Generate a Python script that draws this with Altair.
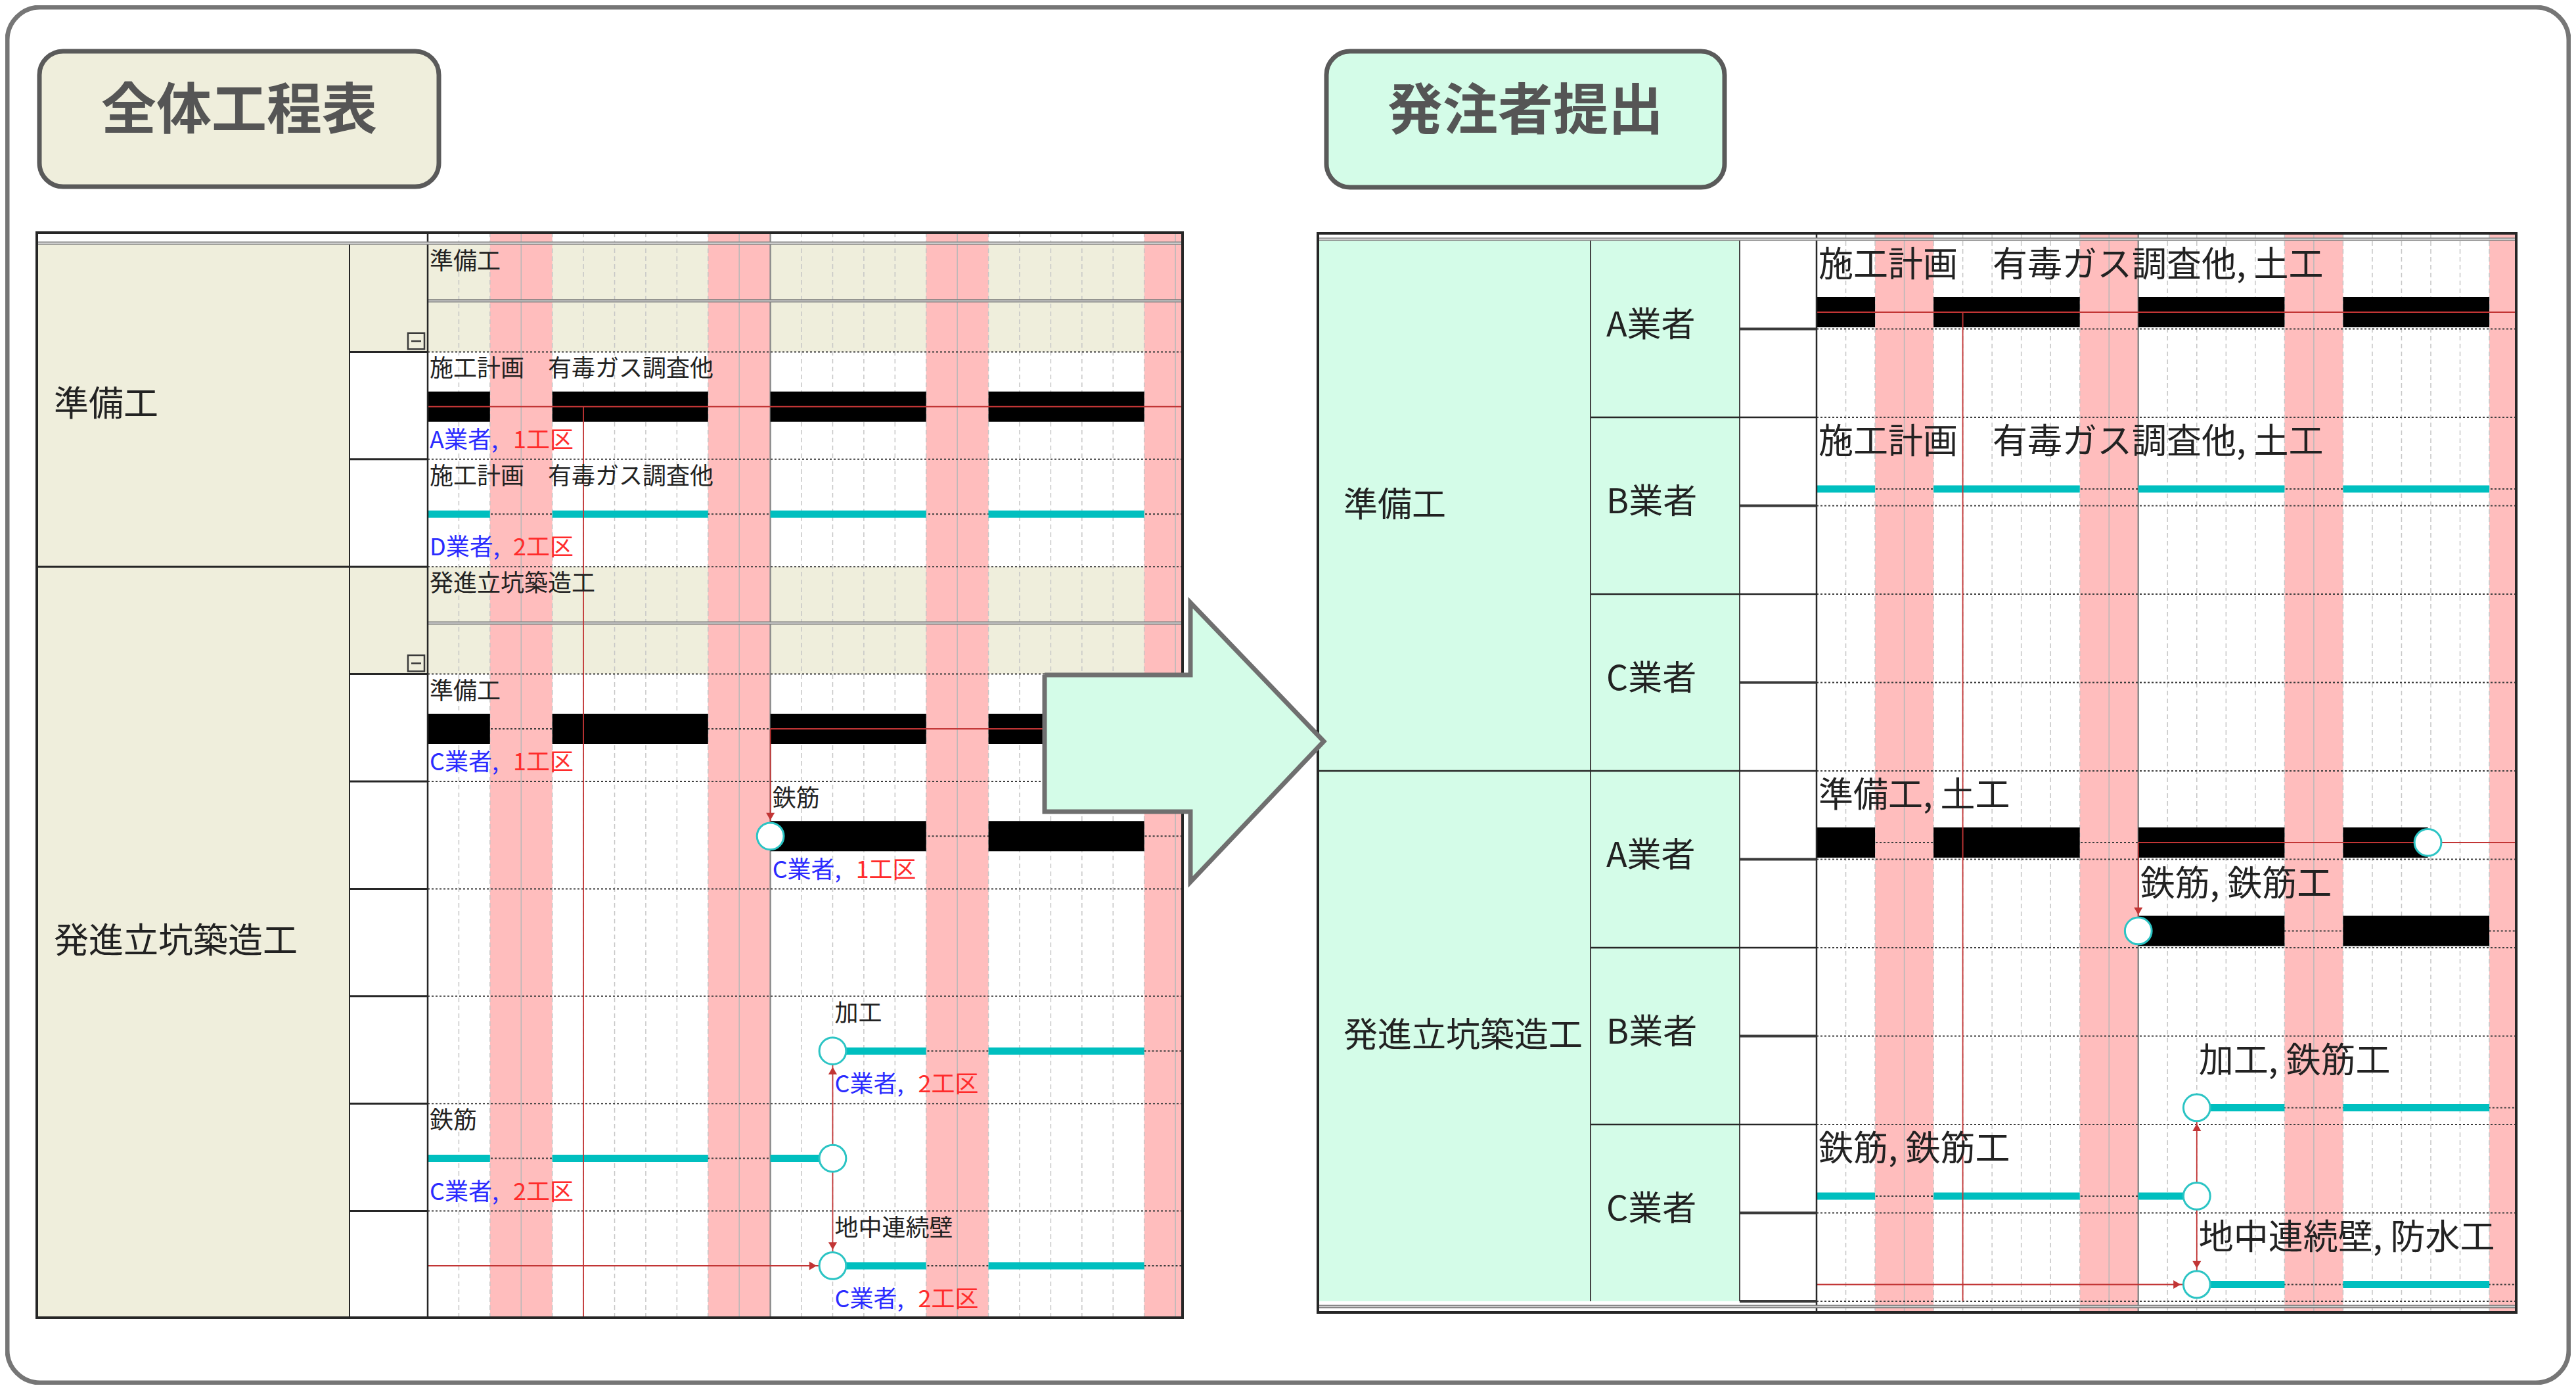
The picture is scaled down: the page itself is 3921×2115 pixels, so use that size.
import altair as alt
import pandas as pd

FONT = "Noto Sans CJK JP"

# ======================= schedule content =======================
HOLIDAY_START = [2, 9, 16, 23]          # first day of each 2-day holiday band
HOLIDAY_LEN = 2
WEEK_LINE_DAYS = [3, 10, 17, 24]        # solid grid lines inside the bands
BASE_LINE_DAY = 11                      # solid grey vertical line
PROGRESS_DAY = 5                        # thin red vertical line

# --- left: 全体工程表 ---
L_TITLE = "全体工程表"
L_DAYS = 24.23
L_ROWS = 10
L_GROUPS = ["準備工", "発進立坑築造工"]
L_GROUP_FROM = [0, 3]
L_GROUP_TO = [3, 10]
L_SUMMARY_ROWS = [0, 3]
L_ROW_TEXT = ["準備工", "施工計画　有毒ガス調査他", "施工計画　有毒ガス調査他", "発進立坑築造工",
              "準備工", "鉄筋", "", "加工", "鉄筋", "地中連続壁"]
L_ROW_DAY = [0, 0, 0, 0, 0, 11, 0, 13, 0, 13]
L_VENDOR = ["", "A業者,", "D業者,", "", "C業者,", "C業者,", "", "C業者,", "C業者,", "C業者,"]
L_ZONE = ["", "1工区", "2工区", "", "1工区", "1工区", "", "2工区", "2工区", "2工区"]
L_TASK_ROW = [1, 2, 4, 5, 7, 8, 9]
L_TASK_COLOR = ["black", "cyan", "black", "black", "cyan", "cyan", "cyan"]
L_TASK_SEGMENTS = [
    [(0, 2), (4, 9), (11, 16), (18, 23)],
    [(0, 2), (4, 9), (11, 16), (18, 23)],
    [(0, 2), (4, 9), (11, 16), (18, 23)],
    [(11, 16), (18, 23)],
    [(13, 16), (18, 23)],
    [(0, 2), (4, 9), (11, 13)],
    [(13, 16), (18, 23)],
]
L_TASK_DOTTED = [None, (0, L_DAYS), (0, L_DAYS), (11, L_DAYS), (13, L_DAYS), (0, 13), (13, L_DAYS)]
L_MILESTONE_ROW = [5, 7, 8, 9]
L_MILESTONE_DAY = [11, 13, 13, 13]
L_LINK_H = [(1, 0, L_DAYS), (4, 11, L_DAYS), (9, 0, 13)]          # row, from day, to day
L_LINK_V = [(PROGRESS_DAY, 1, None), (11, 4, 5), (13, 7, 9)]       # day, from row, to row
L_ARROWHEAD = [(11, 5, "down"), (13, 7, "up"), (13, 9, "down"), (13, 9, "right")]

# --- right: 発注者提出 ---
R_TITLE = "発注者提出"
R_DAYS = 23.92
R_ROWS = 12
R_GROUPS = ["準備工", "発進立坑築造工"]
R_GROUP_FROM = [0, 6]
R_GROUP_TO = [6, 12]
R_VENDORS = ["A業者", "B業者", "C業者", "A業者", "B業者", "C業者"]
R_VENDOR_FROM = [0, 2, 4, 6, 8, 10]
R_TASK_SUB = [0, 2, 6, 7, 9, 10, 11]
R_TASK_TEXT = ["施工計画　有毒ガス調査他, 土工", "施工計画　有毒ガス調査他, 土工", "準備工, 土工",
               "鉄筋, 鉄筋工", "加工, 鉄筋工", "鉄筋, 鉄筋工", "地中連続壁, 防水工"]
R_TASK_DAY = [0, 0, 0, 11, 13, 0, 13]
R_TASK_COLOR = ["black", "cyan", "black", "black", "cyan", "cyan", "cyan"]
R_TASK_SEGMENTS = [
    [(0, 2), (4, 9), (11, 16), (18, 23)],
    [(0, 2), (4, 9), (11, 16), (18, 23)],
    [(0, 2), (4, 9), (11, 16), (18, 20.9)],
    [(11, 16), (18, 23)],
    [(13, 16), (18, 23)],
    [(0, 2), (4, 9), (11, 13)],
    [(13, 16), (18, 23)],
]
R_TASK_DOTTED = [None, (0, R_DAYS), (0, 20.9), (11, R_DAYS), (13, R_DAYS), (0, 13), (13, R_DAYS)]
R_MILESTONE_SUB = [6, 7, 9, 10, 11]
R_MILESTONE_DAY = [20.9, 11, 13, 13, 13]
R_LINK_H = [(0, 0, R_DAYS), (6, 11, R_DAYS), (11, 0, 13)]
R_LINK_V = [(PROGRESS_DAY, 0, None), (11, 6, 7), (13, 9, 11)]
R_ARROWHEAD = [(11, 7, "down"), (13, 9, "up"), (13, 11, "down"), (13, 11, "right")]

# ======================= style / layout =======================
OFF = 8
W, H = 3905, 2099
PINK = "#ffbdbd"
CREAM = "#efeedc"
MINT = "#d4fce8"
CYAN = "#00bfbf"
RED = "#c23535"
BLUE_T = "#2b2bff"
RED_T = "#ff2b2b"
INK = "#262626"
GRID = "#c6c6c6"
TXT = "#222222"

FRAME = (11, 11, 3910, 2104)
TITLE_X = [60, 2019]
TITLE_X2 = [668, 2625]
TITLE_Y = [78, 78]
TITLE_Y2 = [284, 285]
TITLE_FILL = [CREAM, MINT]

LG = dict(left=56, top=354, right=1800, bottom=2005, c1=532, c2=651, row0=372, rowN=2006,
          text_off=0.165, bar_off=0.51, label_off=0.83, dbl_off=0.525, label_x=82, fs=36, big=53,
          icon_x=621, icon_x2=646, icon_off=0.825, icon_off2=0.975)
RG = dict(left=2006, top=355, right=3830, bottom=1997, c1=2421, c2=2648, c3=2765, row0=366, rowN=1980,
          text_off=0.29, bar_off=0.81, label_x=2045, vendor_x=2445, fs=53, big=52)

ARROW_SHAFT = (1590, 1027, 1812, 1235)          # x, y, x2, y2
ARROW_HEAD = (1812, 917, 1342, 2015, 1128)       # base x, top y, bottom y, tip x, tip y


def scale(d0, d1, r0, r1):
    return alt.Scale(domain=[d0, d1], range=[r0 - OFF, r1 - OFF], nice=False, zero=False)


PXS = scale(0, 1000, 0, 1000)
PYS = scale(0, 1000, 0, 1000)


def mk(data, mark, xs, ys, x2=False, y2=False, text=False, enc=None, **props):
    ch = getattr(alt.Chart(data), "mark_" + mark)(**props)
    e = {"x": alt.X("x:Q", scale=xs, axis=None), "y": alt.Y("y:Q", scale=ys, axis=None)}
    if x2:
        e["x2"] = alt.X2("x2")
    if y2:
        e["y2"] = alt.Y2("y2")
    if text:
        e["text"] = alt.Text("t:N")
    if enc:
        e.update(enc)
    return ch.encode(**e)


def gantt_grid(xs, ys, days, top, bottom, row_lines):
    out = []
    hol = pd.DataFrame({"x": HOLIDAY_START, "x2": [min(s + HOLIDAY_LEN, days) for s in HOLIDAY_START]})
    hol["y"] = top
    hol["y2"] = bottom
    out.append(mk(hol, "rect", xs, PYS, x2=True, y2=True, color=PINK))
    dash_days = [d for d in range(1, int(days) + 1) if d not in WEEK_LINE_DAYS and d != BASE_LINE_DAY]
    g = pd.DataFrame({"x": dash_days})
    g["y"] = top
    g["y2"] = bottom
    out.append(mk(g, "rule", xs, PYS, y2=True, color=GRID, strokeWidth=1.5, strokeDash=[7, 5]))
    wk = pd.DataFrame({"x": [d for d in WEEK_LINE_DAYS if d < days]})
    wk["y"] = top
    wk["y2"] = bottom
    out.append(mk(wk, "rule", xs, PYS, y2=True, color="#b8b8b8", strokeWidth=1.5))
    bl = pd.DataFrame({"x": [BASE_LINE_DAY], "y": [top], "y2": [bottom]})
    out.append(mk(bl, "rule", xs, PYS, y2=True, color="#8c8c8c", strokeWidth=2.5))
    rl = pd.DataFrame({"y": row_lines})
    rl["x"] = 0
    rl["x2"] = days
    out.append(mk(rl, "rule", xs, ys, x2=True, color="#3c3c3c", strokeWidth=2, strokeDash=[3, 3]))
    return out


def gantt_tasks(xs, ys, days, n_rows, off, t_rows, t_colors, t_segs, t_dotted, ms_rows, ms_days,
                link_h, link_v, heads, black_w, cyan_w):
    out = []
    dx, dx2, dy = [], [], []
    for r, d in zip(t_rows, t_dotted):
        if d:
            dx.append(d[0]); dx2.append(d[1]); dy.append(r + off)
    out.append(mk(pd.DataFrame({"x": dx, "x2": dx2, "y": dy}), "rule", xs, ys, x2=True,
                  color="#3c3c3c", strokeWidth=2, strokeDash=[3, 3]))
    for col, width, colour in [("black", black_w, "#000000"), ("cyan", cyan_w, CYAN)]:
        bx, bx2, by = [], [], []
        for r, c, segs in zip(t_rows, t_colors, t_segs):
            if c == col:
                for a, b in segs:
                    bx.append(a); bx2.append(b); by.append(r + off)
        out.append(mk(pd.DataFrame({"x": bx, "x2": bx2, "y": by}), "rule", xs, ys, x2=True,
                      color=colour, strokeWidth=width, strokeCap="butt"))
    hdf = pd.DataFrame({"y": [h[0] + off for h in link_h], "x": [h[1] for h in link_h],
                        "x2": [h[2] for h in link_h]})
    out.append(mk(hdf, "rule", xs, ys, x2=True, color=RED, strokeWidth=2))
    vdf = pd.DataFrame({"x": [v[0] for v in link_v], "y": [v[1] + off for v in link_v],
                        "y2": [(v[2] + off) if v[2] is not None else n_rows for v in link_v]})
    out.append(mk(vdf, "rule", xs, ys, y2=True, color=RED, strokeWidth=1.8))
    for direction, shape, xo, yo in [("down", "triangle-down", 0, -30), ("up", "triangle-up", 0, 30),
                                     ("right", "triangle-right", -30, 0)]:
        sel = [h for h in heads if h[2] == direction]
        if sel:
            adf = pd.DataFrame({"x": [h[0] for h in sel], "y": [h[1] + off for h in sel]})
            out.append(mk(adf, "point", xs, ys, shape=shape, filled=True, color=RED, size=170,
                          opacity=1, xOffset=xo, yOffset=yo))
    mdf = pd.DataFrame({"x": ms_days, "y": [r + off for r in ms_rows]})
    out.append(mk(mdf, "point", xs, ys, shape="circle", filled=True, fill="white", stroke="#2bc4c4",
                  strokeWidth=3, size=1662, opacity=1))
    return out


layers = []

# ---------------- background: outer frame and title boxes ----------------
layers.append(mk(pd.DataFrame({"x": [FRAME[0]], "x2": [FRAME[2]], "y": [FRAME[1]], "y2": [FRAME[3]]}),
                 "rect", PXS, PYS, x2=True, y2=True, fill="white", stroke="#767676", strokeWidth=7,
                 cornerRadius=50))
tb = pd.DataFrame({"x": TITLE_X, "x2": TITLE_X2, "y": TITLE_Y, "y2": TITLE_Y2, "f": TITLE_FILL})
layers.append(mk(tb, "rect", PXS, PYS, x2=True, y2=True, enc={"fill": alt.Fill("f:N", scale=None)},
                 stroke="#5a5a5a", strokeWidth=7, cornerRadius=36))
tt = pd.DataFrame({"x": [(a + b) / 2 for a, b in zip(TITLE_X, TITLE_X2)],
                   "y": [(a + b) / 2 - 10 for a, b in zip(TITLE_Y, TITLE_Y2)],
                   "t": [L_TITLE, R_TITLE]})
layers.append(mk(tt, "text", PXS, PYS, text=True, font=FONT, fontSize=84, fontWeight="bold",
                 color="#555555", align="center", baseline="middle"))

# ---------------- left panel ----------------
LXS = scale(0, L_DAYS, LG["c2"], LG["right"])
LYS = scale(0, L_ROWS, LG["row0"], LG["rowN"])
layers.append(mk(pd.DataFrame({"x": [LG["left"]], "x2": [LG["c1"]], "y": [0], "y2": [L_ROWS]}),
                 "rect", PXS, LYS, x2=True, y2=True, color=CREAM))
sr = pd.DataFrame({"y": L_SUMMARY_ROWS, "y2": [r + 1 for r in L_SUMMARY_ROWS]})
sr["x"] = LG["c1"]
sr["x2"] = LG["c2"]
layers.append(mk(sr, "rect", PXS, LYS, x2=True, y2=True, color=CREAM))
sg = pd.DataFrame({"y": L_SUMMARY_ROWS, "y2": [r + 1 for r in L_SUMMARY_ROWS]})
sg["x"] = 0
sg["x2"] = L_DAYS
layers.append(mk(sg, "rect", LXS, LYS, x2=True, y2=True, color=CREAM))
layers += gantt_grid(LXS, LYS, L_DAYS, LG["top"], LG["bottom"], list(range(1, L_ROWS)))
dbl = pd.DataFrame({"y": [r + LG["dbl_off"] for r in L_SUMMARY_ROWS]})
dbl["x"] = 0
dbl["x2"] = L_DAYS
layers.append(mk(dbl, "rule", LXS, LYS, x2=True, color="#7e7e7e", strokeWidth=5))
layers.append(mk(dbl, "rule", LXS, LYS, x2=True, color="#e2e2e2", strokeWidth=1.3))
layers += gantt_tasks(LXS, LYS, L_DAYS, L_ROWS, LG["bar_off"], L_TASK_ROW, L_TASK_COLOR, L_TASK_SEGMENTS,
                      L_TASK_DOTTED, L_MILESTONE_ROW, L_MILESTONE_DAY, L_LINK_H, L_LINK_V, L_ARROWHEAD, 46, 11)
idx = [i for i, t in enumerate(L_ROW_TEXT) if t]
layers.append(mk(pd.DataFrame({"x": [L_ROW_DAY[i] for i in idx], "y": [i + LG["text_off"] for i in idx],
                               "t": [L_ROW_TEXT[i] for i in idx]}),
                 "text", LXS, LYS, text=True, font=FONT, fontSize=LG["fs"], color=TXT,
                 align="left", baseline="middle", dx=3))
vidx = [i for i, t in enumerate(L_VENDOR) if t]
vlab = pd.DataFrame({"x": [L_ROW_DAY[i] for i in vidx], "y": [i + LG["label_off"] for i in vidx],
                     "t": [L_VENDOR[i] for i in vidx]})
layers.append(mk(vlab, "text", LXS, LYS, text=True, font=FONT, fontSize=LG["fs"], color=BLUE_T,
                 align="left", baseline="middle", dx=3))
zlab = pd.DataFrame({"x": [L_ROW_DAY[i] for i in vidx], "y": [i + LG["label_off"] for i in vidx],
                     "t": [L_ZONE[i] for i in vidx]})
layers.append(mk(zlab, "text", LXS, LYS, text=True, font=FONT, fontSize=LG["fs"], color=RED_T,
                 align="left", baseline="middle", dx=130))
# left table lines and labels
layers.append(mk(pd.DataFrame({"x": [LG["c1"]], "y": [0], "y2": [L_ROWS]}), "rule", PXS, LYS, y2=True,
                 color=INK, strokeWidth=2))
layers.append(mk(pd.DataFrame({"x": [LG["c2"]], "y": [LG["top"]], "y2": [LG["bottom"]]}), "rule", PXS, PYS,
                 y2=True, color=INK, strokeWidth=2.5))
c2l = pd.DataFrame({"y": list(range(1, L_ROWS))})
c2l["x"] = LG["c1"]
c2l["x2"] = LG["c2"]
layers.append(mk(c2l, "rule", PXS, LYS, x2=True, color=INK, strokeWidth=3))
gl = pd.DataFrame({"y": L_GROUP_FROM[1:]})
gl["x"] = LG["left"]
gl["x2"] = LG["c1"]
layers.append(mk(gl, "rule", PXS, LYS, x2=True, color=INK, strokeWidth=3))
# collapse icons (boxed minus) in the summary rows
icons = pd.DataFrame({"y": [r + LG["icon_off"] for r in L_SUMMARY_ROWS],
                      "y2": [r + LG["icon_off2"] for r in L_SUMMARY_ROWS]})
icons["x"] = LG["icon_x"]
icons["x2"] = LG["icon_x2"]
layers.append(mk(icons, "rect", PXS, LYS, x2=True, y2=True, fill=CREAM, stroke="#3a3a3a", strokeWidth=2.5))
mid = pd.DataFrame({"y": [r + (LG["icon_off"] + LG["icon_off2"]) / 2 for r in L_SUMMARY_ROWS]})
mid["x"] = LG["icon_x"] + 5
mid["x2"] = LG["icon_x2"] - 5
layers.append(mk(mid, "rule", PXS, LYS, x2=True, color="#3a3a3a", strokeWidth=2.5))
glab = pd.DataFrame({"y": [(a + b) / 2 for a, b in zip(L_GROUP_FROM, L_GROUP_TO)], "t": L_GROUPS})
glab["x"] = LG["label_x"]
layers.append(mk(glab, "text", PXS, LYS, text=True, font=FONT, fontSize=LG["big"], color=TXT,
                 align="left", baseline="middle"))

# ---------------- right panel ----------------
RXS = scale(0, R_DAYS, RG["c3"], RG["right"])
RYS = scale(0, R_ROWS, RG["row0"], RG["rowN"])
layers.append(mk(pd.DataFrame({"x": [RG["left"]], "x2": [RG["c2"]], "y": [0], "y2": [R_ROWS]}),
                 "rect", PXS, RYS, x2=True, y2=True, color=MINT))
layers += gantt_grid(RXS, RYS, R_DAYS, RG["top"], RG["bottom"], list(range(1, R_ROWS + 1)))
layers += gantt_tasks(RXS, RYS, R_DAYS, R_ROWS, RG["bar_off"], R_TASK_SUB, R_TASK_COLOR, R_TASK_SEGMENTS,
                      R_TASK_DOTTED, R_MILESTONE_SUB, R_MILESTONE_DAY, R_LINK_H, R_LINK_V, R_ARROWHEAD, 46, 11)
layers.append(mk(pd.DataFrame({"x": R_TASK_DAY, "y": [s + RG["text_off"] for s in R_TASK_SUB], "t": R_TASK_TEXT}),
                 "text", RXS, RYS, text=True, font=FONT, fontSize=RG["fs"], color=TXT,
                 align="left", baseline="middle", dx=3))
layers.append(mk(pd.DataFrame({"x": [RG["c1"], RG["c2"]], "y": [0, 0], "y2": [R_ROWS, R_ROWS]}),
                 "rule", PXS, RYS, y2=True, color="#444444", strokeWidth=2))
layers.append(mk(pd.DataFrame({"x": [RG["c3"]], "y": [RG["top"]], "y2": [RG["bottom"]]}), "rule", PXS, PYS,
                 y2=True, color=INK, strokeWidth=2.5))
rgl = pd.DataFrame({"y": R_GROUP_FROM[1:]})
rgl["x"] = RG["left"]
rgl["x2"] = RG["c3"]
layers.append(mk(rgl, "rule", PXS, RYS, x2=True, color=INK, strokeWidth=2.5))
rvl = pd.DataFrame({"y": [f for f in R_VENDOR_FROM if f not in R_GROUP_FROM]})
rvl["x"] = RG["c1"]
rvl["x2"] = RG["c3"]
layers.append(mk(rvl, "rule", PXS, RYS, x2=True, color=INK, strokeWidth=2.5))
rsl = pd.DataFrame({"y": [s for s in range(1, R_ROWS + 1) if s not in R_VENDOR_FROM]})
rsl["x"] = RG["c2"]
rsl["x2"] = RG["c3"]
layers.append(mk(rsl, "rule", PXS, RYS, x2=True, color="#3a3a3a", strokeWidth=4))
rg = pd.DataFrame({"y": [(a + b) / 2 for a, b in zip(R_GROUP_FROM, R_GROUP_TO)], "t": R_GROUPS})
rg["x"] = RG["label_x"]
layers.append(mk(rg, "text", PXS, RYS, text=True, font=FONT, fontSize=RG["big"], color=TXT,
                 align="left", baseline="middle"))
rv = pd.DataFrame({"y": [f + 1 for f in R_VENDOR_FROM], "t": R_VENDORS})
rv["x"] = RG["vendor_x"]
layers.append(mk(rv, "text", PXS, RYS, text=True, font=FONT, fontSize=RG["big"], color=TXT,
                 align="left", baseline="middle", dy=-5))

# ---------------- top decorations: table frames, double lines, big arrow ----------------
fr = pd.DataFrame({"x": [LG["left"], RG["left"]], "x2": [LG["right"], RG["right"]],
                   "y": [LG["top"], RG["top"]], "y2": [LG["bottom"], RG["bottom"]]})
hd = pd.DataFrame({"x": [LG["left"], RG["left"], RG["left"]], "x2": [LG["right"], RG["right"], RG["right"]],
                   "y": [LG["row0"] - 2, RG["row0"] - 2, RG["rowN"] + 8]})
layers.append(mk(hd, "rule", PXS, PYS, x2=True, color="#858585", strokeWidth=5))
layers.append(mk(hd, "rule", PXS, PYS, x2=True, color="#e4e4e4", strokeWidth=1.3))
layers.append(mk(fr, "rect", PXS, PYS, x2=True, y2=True, fill="white", fillOpacity=0, stroke=INK,
                 strokeWidth=4))
sx, sy, sx2, sy2 = ARROW_SHAFT
bx, ty, by, tx, tyy = ARROW_HEAD
layers.append(mk(pd.DataFrame({"x": [sx], "x2": [sx2 + 2], "y": [sy], "y2": [sy2]}), "rect", PXS, PYS,
                 x2=True, y2=True, color=MINT))
layers.append(mk(pd.DataFrame({"x": [bx, tx], "y": [ty, tyy], "y2": [by, tyy]}), "area", PXS, PYS, y2=True,
                 color=MINT, opacity=1))
outline = pd.DataFrame({
    "x": [sx, sx2, bx, tx, bx, sx2, sx, sx],
    "y": [sy, sy, ty, tyy, by, sy2, sy2, sy],
    "i": list(range(8)),
})
layers.append(mk(outline, "line", PXS, PYS, enc={"order": alt.Order("i:Q")}, color="#6f6f6f",
                 strokeWidth=7, strokeJoin="miter"))

chart = alt.layer(*layers).resolve_scale(x="independent", y="independent").properties(
    width=W, height=H, padding=0, autosize=alt.AutoSizeParams(type="none"), background="white"
).configure_view(stroke="transparent")

chart.save("out.html", embed_options={"renderer": "svg", "actions": False})
